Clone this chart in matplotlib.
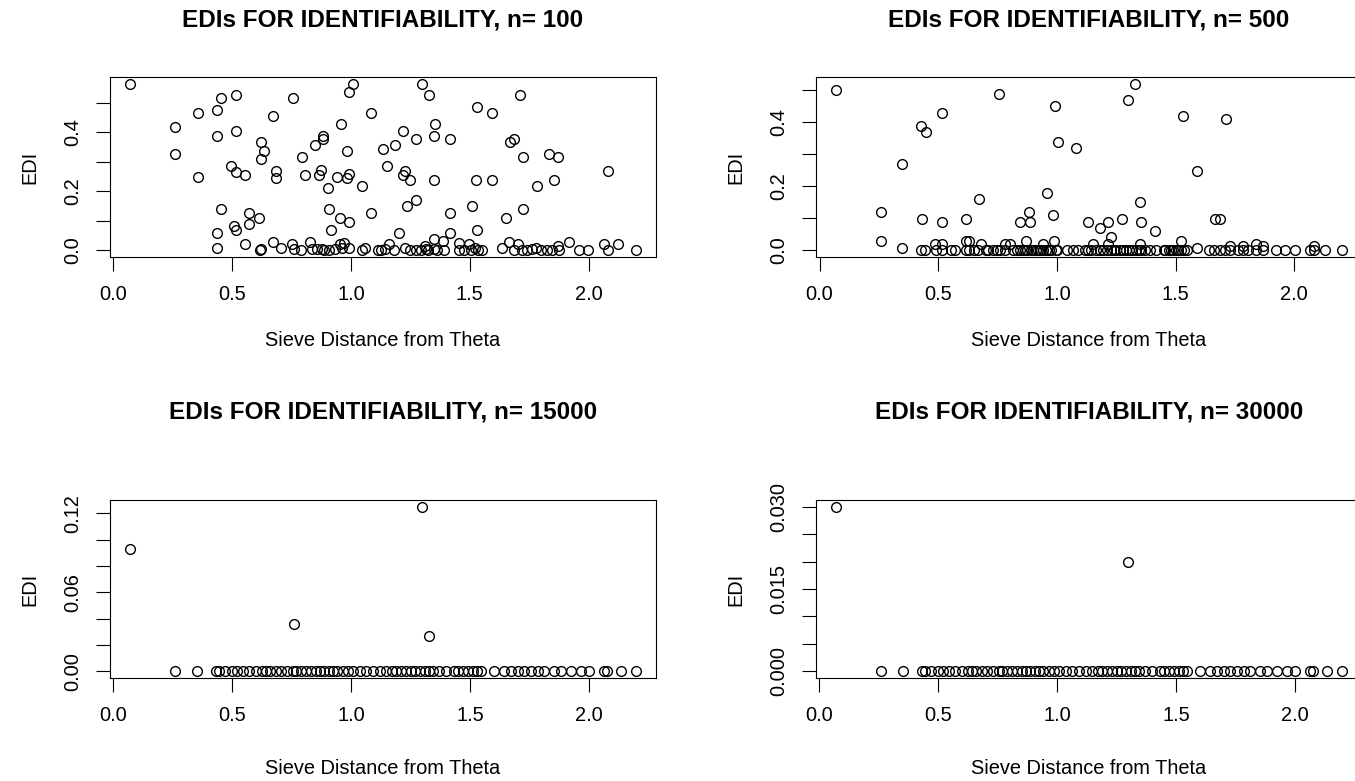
import matplotlib.pyplot as plt
import numpy as np

plt.rcParams['font.family'] = ['Liberation Sans', 'DejaVu Sans']

W, H = 1355, 781

# ---- n = 100 : sieve distance vs EDI
x_100 = [0.071, 0.260, 0.260, 0.355, 0.355, 0.434, 0.453, 0.517, 0.434, 0.517,
         0.494, 0.517, 0.554, 0.453, 0.434, 0.434, 0.506, 0.517, 0.570, 0.570,
         0.612, 0.554, 0.622, 0.634, 0.622, 0.672, 0.683, 0.683, 0.755, 0.792,
         0.808, 0.849, 0.884, 0.884, 0.864, 0.875, 0.902, 0.940, 0.959, 0.985,
         0.985, 0.992, 0.992, 1.008, 1.045, 1.083, 0.909, 0.917, 0.952, 0.992,
         1.083, 1.133, 1.184, 1.151, 1.219, 1.219, 1.227, 1.249, 1.272, 1.299,
         1.328, 1.355, 1.350, 1.415, 1.350, 1.237, 1.275, 1.201, 1.418, 1.418,
         1.511, 1.532, 1.532, 1.592, 1.524, 1.592, 1.710, 1.668, 1.687, 1.725,
         1.650, 1.725, 1.835, 1.872, 1.782, 1.853, 2.083,
         0.622, 0.615, 0.672, 0.705, 0.751, 0.758, 0.789, 0.826, 0.834, 0.856,
         0.879, 0.887, 0.909, 0.932, 0.955, 0.962, 0.970, 0.992, 1.045, 1.060,
         1.113, 1.128, 1.144, 1.159, 1.181, 1.227, 1.249, 1.272, 1.295, 1.310,
         1.317, 1.325, 1.347, 1.347, 1.363, 1.385, 1.393, 1.453, 1.453, 1.476,
         1.498, 1.506, 1.521, 1.536, 1.551, 1.634, 1.665, 1.687, 1.702, 1.718,
         1.740, 1.763, 1.778, 1.801, 1.823, 1.846, 1.869, 1.876, 1.917, 1.959,
         1.997, 2.065, 2.080, 2.125, 2.198]
edi_100 = [0.565, 0.418, 0.328, 0.467, 0.248, 0.477, 0.516, 0.527, 0.387, 0.406,
           0.285, 0.266, 0.257, 0.139, 0.060, 0.009, 0.082, 0.069, 0.128, 0.088,
           0.111, 0.020, 0.367, 0.336, 0.308, 0.457, 0.269, 0.246, 0.516, 0.317,
           0.257, 0.357, 0.389, 0.378, 0.257, 0.271, 0.210, 0.248, 0.427, 0.336,
           0.246, 0.260, 0.536, 0.565, 0.218, 0.466, 0.139, 0.069, 0.111, 0.097,
           0.128, 0.345, 0.357, 0.286, 0.406, 0.257, 0.269, 0.237, 0.376, 0.565,
           0.527, 0.427, 0.387, 0.378, 0.237, 0.150, 0.169, 0.060, 0.128, 0.060,
           0.150, 0.069, 0.486, 0.466, 0.237, 0.237, 0.527, 0.367, 0.376, 0.317,
           0.108, 0.139, 0.327, 0.317, 0.218, 0.238, 0.269,
           0.003, 0.000, 0.028, 0.009, 0.020, 0.003, 0.000, 0.028, 0.003, 0.003,
           0.003, 0.000, 0.000, 0.003, 0.020, 0.009, 0.026, 0.009, 0.000, 0.009,
           0.000, 0.000, 0.003, 0.020, 0.000, 0.009, 0.000, 0.000, 0.000, 0.015,
           0.003, 0.000, 0.037, 0.003, 0.000, 0.032, 0.000, 0.026, 0.000, 0.000,
           0.020, 0.000, 0.009, 0.000, 0.000, 0.009, 0.028, 0.000, 0.020, 0.000,
           0.000, 0.003, 0.009, 0.000, 0.000, 0.000, 0.015, 0.000, 0.028, 0.000,
           0.000, 0.020, 0.000, 0.020, 0.000]

# ---- n = 500
x_500 = [0.070, 0.755, 1.329, 1.298, 0.991, 0.515, 1.532, 1.711, 0.428, 0.448,
         1.005, 1.081, 0.349, 1.590, 0.671, 0.956, 1.349, 0.257, 0.882, 0.430,
         0.515, 0.618, 0.846, 0.885, 0.985, 1.131, 1.183, 1.217, 1.274, 1.356,
         1.414, 1.667, 1.685, 0.257, 0.349, 1.226,
         0.485, 0.515, 0.615, 0.630, 0.680, 0.783, 0.801, 0.870, 0.940, 0.989,
         1.150, 1.214, 1.349, 1.524, 1.590, 1.728, 1.784, 1.838, 1.869, 2.083,
         0.428, 0.446, 0.492, 0.515, 0.554, 0.569, 0.615, 0.668, 0.699, 0.749,
         0.760, 0.813, 0.844, 0.867, 0.890, 0.920, 0.943, 0.966, 0.994, 1.043,
         1.066, 1.089, 1.119, 1.142, 1.165, 1.196, 1.226, 1.249, 1.280, 1.303,
         1.333, 1.356, 1.394, 1.417, 1.456, 1.479, 1.502, 1.524, 1.547, 1.639,
         1.662, 1.685, 1.708, 1.731, 1.761, 1.784, 1.807, 1.838, 1.869, 1.922,
         1.960, 2.002, 2.067, 2.083, 2.128, 2.200,
         0.630, 0.650, 0.710, 0.730, 0.780, 0.830, 0.855, 0.875, 0.900, 0.910,
         0.930, 0.955, 0.975, 1.000, 1.130, 1.180, 1.210, 1.240, 1.265, 1.290,
         1.315, 1.345, 1.370, 1.450, 1.470, 1.490, 1.510, 1.535]
edi_500 = [0.500, 0.490, 0.521, 0.469, 0.450, 0.429, 0.419, 0.409, 0.390, 0.369,
           0.340, 0.319, 0.269, 0.249, 0.160, 0.179, 0.150, 0.120, 0.120, 0.099,
           0.089, 0.099, 0.089, 0.089, 0.110, 0.089, 0.069, 0.089, 0.099, 0.089,
           0.059, 0.099, 0.099, 0.029, 0.008, 0.041,
           0.021, 0.021, 0.029, 0.029, 0.021, 0.021, 0.021, 0.029, 0.021, 0.029,
           0.021, 0.021, 0.021, 0.029, 0.008, 0.013, 0.013, 0.021, 0.013, 0.013,
           0.0, 0.0, 0.0, 0.0, 0.0, 0.0, 0.0, 0.0, 0.0, 0.0,
           0.0, 0.0, 0.0, 0.0, 0.0, 0.0, 0.0, 0.0, 0.0, 0.0,
           0.0, 0.0, 0.0, 0.0, 0.0, 0.0, 0.0, 0.0, 0.0, 0.0,
           0.0, 0.0, 0.0, 0.0, 0.0, 0.0, 0.0, 0.0, 0.0, 0.0,
           0.0, 0.0, 0.0, 0.0, 0.0, 0.0, 0.0, 0.0, 0.0, 0.0,
           0.0, 0.0, 0.0, 0.0, 0.0, 0.0,
           0.0, 0.0, 0.0, 0.0, 0.0, 0.0, 0.0, 0.0, 0.0, 0.0,
           0.0, 0.0, 0.0, 0.0, 0.0, 0.0, 0.0, 0.0, 0.0, 0.0,
           0.0, 0.0, 0.0, 0.0, 0.0, 0.0, 0.0, 0.0]

# ---- n = 15000 and n = 30000 : almost every sieve point has EDI 0
x_zero = [0.258, 0.352, 0.430, 0.446, 0.470, 0.500, 0.521, 0.545, 0.570, 0.600,
          0.627, 0.641, 0.660, 0.683, 0.704, 0.730, 0.754, 0.768, 0.790, 0.810,
          0.830, 0.852, 0.870, 0.885, 0.908, 0.925, 0.940, 0.965, 0.985, 1.007,
          1.035, 1.063, 1.092, 1.120, 1.148, 1.170, 1.190, 1.210, 1.230, 1.250,
          1.270, 1.290, 1.310, 1.325, 1.345, 1.370, 1.400, 1.430, 1.450, 1.470,
          1.490, 1.510, 1.530, 1.545, 1.600, 1.643, 1.671, 1.700, 1.727, 1.755,
          1.783, 1.810, 1.853, 1.880, 1.923, 1.965, 2.000, 2.063, 2.077, 2.133,
          2.196]
edi_zero = [0.0] * len(x_zero)

x_15000_hi = [0.071, 0.758, 1.299, 1.328]
edi_15000_hi = [0.093, 0.036, 0.125, 0.027]

x_30000_hi = [0.071, 1.299]
edi_30000_hi = [0.030, 0.020]

panels = [
    ("EDIs FOR IDENTIFIABILITY, n= 100", x_100, edi_100,
     [0.0, 0.1, 0.2, 0.3, 0.4, 0.5], ["0.0", "", "0.2", "", "0.4", ""],
     (110, 656, 77, 257), 28, 341, 30),
    ("EDIs FOR IDENTIFIABILITY, n= 500", x_500, edi_500,
     [0.0, 0.1, 0.2, 0.3, 0.4, 0.5], ["0.0", "", "0.2", "", "0.4", ""],
     (816, 1362, 77, 257), 28, 341, 736),
    ("EDIs FOR IDENTIFIABILITY, n= 15000", x_zero + x_15000_hi, edi_zero + edi_15000_hi,
     [0.0, 0.02, 0.04, 0.06, 0.08, 0.10, 0.12], ["0.00", "", "", "0.06", "", "", "0.12"],
     (110, 656, 500, 678), 420, 768, 30),
    ("EDIs FOR IDENTIFIABILITY, n= 30000", x_zero + x_30000_hi, edi_zero + edi_30000_hi,
     [0.0, 0.005, 0.010, 0.015, 0.020, 0.025, 0.030],
     ["0.000", "", "", "0.015", "", "", "0.030"],
     (816, 1362, 500, 678), 420, 768, 736),
]

fig = plt.figure(figsize=(W / 100, H / 100), dpi=100)

for title, xs, ys, yt, ytl, (l, r, t, b), ty, xly, yly in panels:
    ax = fig.add_axes([l / W, 1 - b / H, (r - l) / W, (b - t) / H])
    ax.plot(xs, ys, 'o', mfc='none', mec='black', ms=7, mew=1.0, ls='none')

    # R style 4% padding
    x0, x1 = min(xs), max(xs)
    y0, y1 = min(ys), max(ys)
    ax.set_xlim(x0 - 0.04 * (x1 - x0), x1 + 0.04 * (x1 - x0))
    ax.set_ylim(y0 - 0.04 * (y1 - y0), y1 + 0.04 * (y1 - y0))

    ax.set_xticks([0.0, 0.5, 1.0, 1.5, 2.0])
    ax.set_xticklabels(["0.0", "0.5", "1.0", "1.5", "2.0"])
    ax.set_yticks(yt)
    ax.set_yticklabels(ytl, rotation=90, va='center')

    ax.tick_params(direction='out', length=10, width=0.8, labelsize=14.4, pad=10)
    for s in ax.spines.values():
        s.set_linewidth(0.8)

    h = b - t
    w = r - l
    ax.set_title(title, fontsize=17.5, fontweight='bold', y=1 + (t - ty) / h, va='center')
    ax.set_xlabel("Sieve Distance from Theta", fontsize=14.4)
    ax.xaxis.set_label_coords(0.5, -(xly - b) / h)
    ax.xaxis.label.set_va('center')
    ax.set_ylabel("EDI", fontsize=14.4)
    ax.yaxis.set_label_coords(-(l - yly) / w, 0.5)
    ax.yaxis.label.set_va('center')

fig.savefig("out.png", dpi=100)
